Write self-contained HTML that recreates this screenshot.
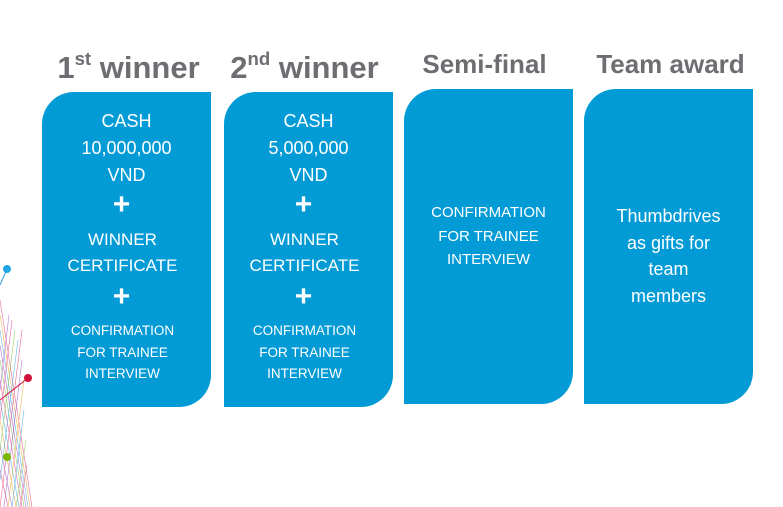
<!DOCTYPE html>
<html><head><meta charset="utf-8"><style>
html,body{margin:0;padding:0;background:#fff;}
body{width:783px;height:507px;position:relative;overflow:hidden;font-family:"Liberation Sans",sans-serif;}
.h{position:absolute;font-weight:bold;color:#6d6e71;white-space:nowrap;text-align:center;}
.h sup{font-size:0.6em;vertical-align:0;position:relative;top:-0.7em;}
.box{position:absolute;background:#039bd5;width:169px;height:315px;border-radius:32px 0 32px 0;}
.t{position:absolute;left:0;width:169px;text-align:center;color:#fff;white-space:nowrap;line-height:20px;}
.p{font-size:30px;font-weight:bold;line-height:30px;}
</style></head><body>
<svg style="position:absolute;left:0;top:0" width="60" height="507">
<g stroke-width="0.6" opacity="0.75">
<line x1="0" y1="300" x2="32" y2="507" stroke="#e23a7a"/>
<line x1="0" y1="315" x2="30" y2="507" stroke="#f0a020"/>
<line x1="0" y1="330" x2="28" y2="507" stroke="#3aa0e0"/>
<line x1="0" y1="345" x2="26" y2="507" stroke="#9b4fc0"/>
<line x1="0" y1="360" x2="24" y2="507" stroke="#7cc040"/>
<line x1="0" y1="380" x2="22" y2="507" stroke="#e23a7a"/>
<line x1="0" y1="400" x2="19" y2="507" stroke="#3aa0e0"/>
<line x1="0" y1="420" x2="16" y2="507" stroke="#f0a020"/>
<line x1="0" y1="445" x2="12" y2="507" stroke="#9b4fc0"/>
<line x1="0" y1="470" x2="8" y2="507" stroke="#e23a7a"/>
<line x1="0" y1="507" x2="22" y2="330" stroke="#e23a7a"/>
<line x1="4" y1="507" x2="22" y2="360" stroke="#9b4fc0"/>
<line x1="8" y1="507" x2="24" y2="380" stroke="#f0a020"/>
<line x1="12" y1="507" x2="24" y2="410" stroke="#3aa0e0"/>
<line x1="16" y1="507" x2="26" y2="440" stroke="#7cc040"/>
<line x1="20" y1="507" x2="27" y2="465" stroke="#e23a7a"/>
<line x1="0" y1="480" x2="18" y2="340" stroke="#3aa0e0"/>
<line x1="0" y1="450" x2="15" y2="330" stroke="#7cc040"/>
<line x1="0" y1="420" x2="12" y2="320" stroke="#e23a7a"/>
<line x1="0" y1="390" x2="9" y2="315" stroke="#9b4fc0"/>
</g>
<line x1="7" y1="269" x2="0" y2="285" stroke="#3aa0e0" stroke-width="1"/>
<circle cx="7" cy="269" r="4" fill="#1ea5e6"/>
<line x1="28" y1="378" x2="0" y2="400" stroke="#d0103a" stroke-width="1"/>
<circle cx="28" cy="378" r="4" fill="#d0103a"/>
<circle cx="7" cy="457" r="4" fill="#7ab800"/>
</svg>

<div class="h" style="left:44px;width:169px;top:50px;font-size:31px;">1<sup>st</sup> winner</div>
<div class="h" style="left:220px;width:169px;top:50px;font-size:31px;">2<sup>nd</sup> winner</div>
<div class="h" style="left:400px;width:169px;top:49px;font-size:26px;">Semi-final</div>
<div class="h" style="left:586px;width:169px;top:49px;font-size:26px;">Team award</div>

<div class="box" style="left:42px;top:92px;">
<div class="t" style="top:19px;font-size:18px;">CASH</div>
<div class="t" style="top:46px;font-size:18px;">10,000,000</div>
<div class="t" style="top:73px;font-size:18px;">VND</div>
<div class="t p" style="top:98px;left:-5px;">+</div>
<div class="t" style="top:138px;font-size:17px;left:-4px;">WINNER</div>
<div class="t" style="top:164px;font-size:17px;left:-4px;">CERTIFICATE</div>
<div class="t p" style="top:190px;left:-5px;">+</div>
<div class="t" style="top:229px;font-size:13.5px;left:-4px;">CONFIRMATION</div>
<div class="t" style="top:251px;font-size:13.5px;left:-4px;">FOR TRAINEE</div>
<div class="t" style="top:272px;font-size:13.5px;left:-4px;">INTERVIEW</div>
</div>

<div class="box" style="left:224px;top:92px;">
<div class="t" style="top:19px;font-size:18px;">CASH</div>
<div class="t" style="top:46px;font-size:18px;">5,000,000</div>
<div class="t" style="top:73px;font-size:18px;">VND</div>
<div class="t p" style="top:98px;left:-5px;">+</div>
<div class="t" style="top:138px;font-size:17px;left:-4px;">WINNER</div>
<div class="t" style="top:164px;font-size:17px;left:-4px;">CERTIFICATE</div>
<div class="t p" style="top:190px;left:-5px;">+</div>
<div class="t" style="top:229px;font-size:13.5px;left:-4px;">CONFIRMATION</div>
<div class="t" style="top:251px;font-size:13.5px;left:-4px;">FOR TRAINEE</div>
<div class="t" style="top:272px;font-size:13.5px;left:-4px;">INTERVIEW</div>
</div>

<div class="box" style="left:404px;top:89px;">
<div class="t" style="top:114px;font-size:15px;">CONFIRMATION</div>
<div class="t" style="top:138px;font-size:15px;">FOR TRAINEE</div>
<div class="t" style="top:161px;font-size:15px;">INTERVIEW</div>
</div>

<div class="box" style="left:584px;top:89px;">
<div class="t" style="top:117px;font-size:18px;">Thumbdrives</div>
<div class="t" style="top:144px;font-size:18px;">as gifts for</div>
<div class="t" style="top:170px;font-size:18px;">team</div>
<div class="t" style="top:197px;font-size:18px;">members</div>
</div>
</body></html>
